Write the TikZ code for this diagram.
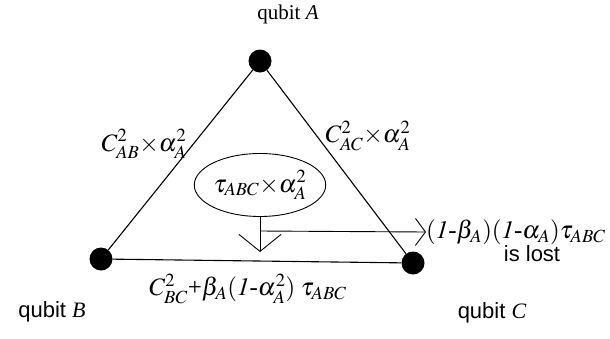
\documentclass[tikz,border=0pt]{standalone}
\usepackage{mathptmx}
\usepackage{fontspec}
\setmainfont{Liberation Serif}
\setsansfont{Liberation Sans}
\usetikzlibrary{positioning,arrows.meta,shapes.geometric}

\begin{document}
\begin{tikzpicture}[x=1pt, y=-1pt,
    qdot/.style={circle, fill=black, minimum size=23pt, inner sep=0pt},
    edge/.style={line width=1.1pt},
    lbl/.style={font=\fontsize{25}{29}\selectfont, inner sep=0pt},
    qname/.style={font=\fontsize{21}{25}\selectfont, inner sep=0pt},
    sname/.style={font=\sffamily\fontsize{22}{26}\selectfont, inner sep=0pt},
    downarr/.style={line width=0.9pt, -{Straight Barb[length=17pt, width=42pt, line width=0.9pt]}},
    lossarr/.style={line width=0.9pt, -{Straight Barb[length=10pt, width=27pt, line width=0.9pt]}},
]
\useasboundingbox (0,0) rectangle (610,338);

% qubits
\node[qdot] (A) at (260,61) {};
\node[qdot] (B) at (101,259) {};
\node[qdot] (C) at (413,263) {};
\draw[edge] (A) -- (B);
\draw[edge] (A) -- (C);
\draw[edge] (B) -- (C);

\node[qname] (nameA) at (288,14) {qubit \textit{A}};
\node[sname] (nameB) at (52,312) {qubit {\rmfamily\itshape B}};
\node[sname] (nameC) at (492,313) {qubit {\rmfamily\itshape C}};

% entanglement labels
\node[lbl] (ab) at (144,144) {$C^{2}_{AB}{\times}\alpha^{2}_{A}$};
\node[lbl] (ac) at (368,136) {$C^{2}_{AC}{\times}\alpha^{2}_{A}$};
\node[lbl] (bc) at (248,289) {$C^{2}_{BC}$+$\beta_{A}(\mathit{1}$\mbox{-}$\alpha^{2}_{A})\;\tau_{ABC}$};

% residual tangle
\node[ellipse, draw, line width=0.9pt, minimum width=110pt, minimum height=63pt,
      inner sep=0pt, font=\fontsize{25}{29}\selectfont] (tau) at (260,185)
      {$\tau_{ABC}{\times}\alpha^{2}_{A}$};
\coordinate (tip) at (tau.south |- 0,252);
\coordinate (branch) at (tau.south |- 0,231);
\draw[downarr] (tau.south) -- (tip);

\node[lbl, anchor=west] (loss) at (426,232)
      {$(\mathit{1}$\mbox{-}$\beta_{A})(\mathit{1}$\mbox{-}$\alpha_{A})\tau_{ABC}$};
\node[sname] (lost) at (532,254) {is lost};
\draw[lossarr] (branch) -- (loss.west);
\end{tikzpicture}
\end{document}
